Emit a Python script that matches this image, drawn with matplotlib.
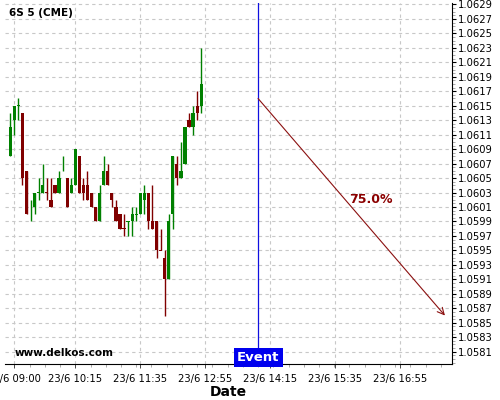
import matplotlib
matplotlib.use("Agg")
import matplotlib.pyplot as plt
import matplotlib.dates as mdates
from matplotlib.ticker import FixedLocator, AutoMinorLocator, FormatStrFormatter
import pandas as pd

# 5 minute candles, 23/6
start_time = "2023-06-23 08:55"
opens  = [1.0608, 1.0613, 1.0615, 1.0614, 1.0606, 1.0601, 1.0601, 1.0603, 1.0603, 1.0603,
          1.0602, 1.0604, 1.0603, 1.0606, 1.0605, 1.0603, 1.0604, 1.0608, 1.0604, 1.0604,
          1.0603, 1.0601, 1.0599, 1.0604, 1.0606, 1.0603, 1.0601, 1.0600, 1.0598, 1.0599,
          1.0599, 1.0600, 1.0600, 1.0602, 1.0603, 1.0599, 1.0599, 1.0595, 1.0594, 1.0591,
          1.0600, 1.0607, 1.0605, 1.0607, 1.0613, 1.0612, 1.0615, 1.0615]
highs  = [1.0614, 1.0615, 1.0616, 1.0614, 1.0606, 1.0602, 1.0603, 1.0605, 1.0607, 1.0605,
          1.0605, 1.0604, 1.0606, 1.0608, 1.0605, 1.0605, 1.0609, 1.0608, 1.0605, 1.0606,
          1.0603, 1.0601, 1.0604, 1.0608, 1.0607, 1.0603, 1.0602, 1.0600, 1.0600, 1.0599,
          1.0601, 1.0601, 1.0603, 1.0604, 1.0603, 1.0604, 1.0599, 1.0598, 1.0595, 1.0600,
          1.0608, 1.0608, 1.0610, 1.0612, 1.0614, 1.0615, 1.0617, 1.0623]
lows   = [1.0608, 1.0611, 1.0613, 1.0604, 1.0600, 1.0599, 1.0600, 1.0602, 1.0603, 1.0602,
          1.0601, 1.0603, 1.0603, 1.0606, 1.0601, 1.0603, 1.0604, 1.0603, 1.0602, 1.0602,
          1.0601, 1.0599, 1.0599, 1.0604, 1.0604, 1.0601, 1.0599, 1.0598, 1.0597, 1.0597,
          1.0597, 1.0599, 1.0600, 1.0600, 1.0598, 1.0598, 1.0594, 1.0595, 1.0586, 1.0591,
          1.0598, 1.0604, 1.0605, 1.0607, 1.0612, 1.0611, 1.0613, 1.0614]
closes = [1.0612, 1.0615, 1.0615, 1.0605, 1.0600, 1.0601, 1.0603, 1.0603, 1.0604, 1.0603,
          1.0601, 1.0603, 1.0605, 1.0606, 1.0601, 1.0604, 1.0609, 1.0603, 1.0603, 1.0602,
          1.0601, 1.0599, 1.0603, 1.0606, 1.0604, 1.0602, 1.0599, 1.0598, 1.0598, 1.0599,
          1.0600, 1.0600, 1.0603, 1.0603, 1.0599, 1.0598, 1.0595, 1.0595, 1.0591, 1.0599,
          1.0608, 1.0605, 1.0606, 1.0612, 1.0612, 1.0614, 1.0614, 1.0618]
# direction of each candle as drawn (dojis keep their colour)
is_up = [1, 1, 1, 0, 0, 1, 1, 1, 1, 0, 0, 0, 1, 1, 0, 1, 1, 0, 0, 0,
         0, 0, 1, 1, 0, 0, 0, 0, 0, 1, 1, 1, 1, 1, 0, 0, 0, 0, 0, 1,
         1, 0, 1, 1, 0, 1, 0, 1]

price_ticks = [1.0581, 1.0583, 1.0585, 1.0587, 1.0589, 1.0591, 1.0593, 1.0595, 1.0597,
               1.0599, 1.0601, 1.0603, 1.0605, 1.0607, 1.0609, 1.0611, 1.0613, 1.0615,
               1.0617, 1.0619, 1.0621, 1.0623, 1.0625, 1.0627, 1.0629]
tick_times = ["09:00", "10:15", "11:35", "12:55", "14:15", "15:35", "16:55"]
event_time = "14:00"
arrow_start = ("14:00", 1.0616)
arrow_end = ("17:50", 1.0586)
arrow_label = "75.0%"
label_pos = ("16:19", 1.0602)
title = "6S 5 (CME)"
watermark = "www.delkos.com"

day = "2023-06-23 "
times = pd.date_range(start_time, periods=len(opens), freq="5min")
green = "#008000"
red = "#800000"


def tnum(hm):
    return mdates.date2num(pd.Timestamp(day + hm))


fig = plt.figure(figsize=(5, 4), dpi=100)
ax = fig.add_axes([0.01, 0.09, 0.894, 0.9025])

width = 4.0 / 1440
for t, o, h, l, c, up in zip(times, opens, highs, lows, closes, is_up):
    x = mdates.date2num(t)
    col = green if up else red
    ax.vlines(x, l, h, color=col, linewidth=1, zorder=3)
    bottom = min(o, c)
    height = max(abs(c - o), 0.000008)
    ax.bar(x, height, width=width, bottom=bottom - (0.000004 if o == c else 0),
           color=col, edgecolor=col, linewidth=0, zorder=4)

ev = tnum(event_time)
ax.axvline(ev, color="#1010e0", linewidth=0.9, zorder=5)
ax.annotate("", xy=(tnum(arrow_end[0]), arrow_end[1]),
            xytext=(tnum(arrow_start[0]), arrow_start[1]),
            arrowprops=dict(arrowstyle="->", color="#8b1010", lw=0.8,
                            shrinkA=0, shrinkB=0, mutation_scale=12), zorder=5)
ax.text(tnum(label_pos[0]), label_pos[1], arrow_label,
        color="#8b0000", fontsize=9, fontweight="bold", ha="center", va="center")

ax.set_xlim(tnum("08:48.5"), tnum("17:58.7"))
ax.set_ylim(1.05793, 1.06292)

ax.set_xticks([tnum(t) for t in tick_times])
ax.set_xticklabels(["23/6 " + t for t in tick_times], fontsize=7.2)
ax.xaxis.set_minor_locator(AutoMinorLocator(4))
ax.yaxis.set_major_locator(FixedLocator(price_ticks))
ax.yaxis.set_minor_locator(AutoMinorLocator(4))
ax.yaxis.set_major_formatter(FormatStrFormatter("%.4f"))
ax.yaxis.tick_right()
ax.tick_params(axis="y", labelsize=7.2, length=3, width=0.8, pad=1)
ax.tick_params(axis="y", which="minor", length=2, width=0.5, color="#888888")
ax.tick_params(axis="x", length=3, width=0.5, pad=4)
ax.tick_params(axis="x", which="minor", length=2, width=0.5, color="#888888")

ax.spines["top"].set_visible(False)
ax.spines["left"].set_visible(False)
ax.grid(True, which="major", color="#c8c8c8", linestyle=(0, (3, 3)), linewidth=0.8)
ax.set_axisbelow(True)

ax.set_xlabel("Date", fontsize=10, fontweight="bold", labelpad=1)
ax.text(0.01, 0.985, title, transform=ax.transAxes, fontsize=7.5, fontweight="bold",
        va="top", ha="left")
ax.text(0.022, 0.03, watermark, transform=ax.transAxes, fontsize=7.5, fontweight="bold",
        va="center", ha="left")
ax.text(ev, 1.05793, "Event", color="white", fontsize=9.5, fontweight="bold",
        ha="center", va="bottom", zorder=6,
        bbox=dict(boxstyle="square,pad=0.25", facecolor="#0000ee", edgecolor="none"))

fig.savefig("out.png", dpi=100)
